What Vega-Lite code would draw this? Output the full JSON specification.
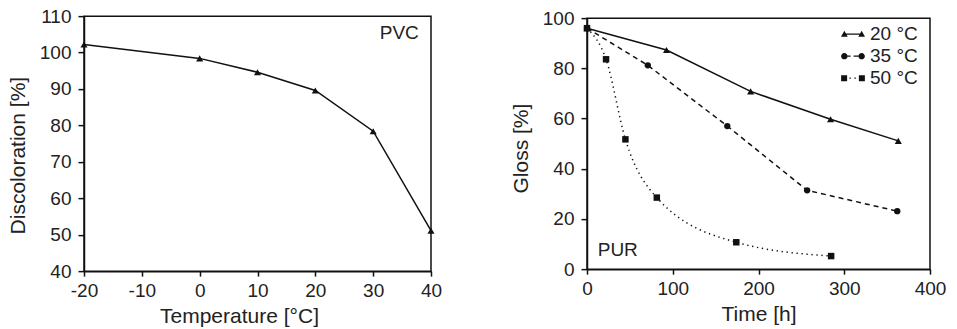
{
  "$schema": "https://vega.github.io/schema/vega-lite/v6.json",
  "padding": {"left": 6, "top": 6, "right": 5, "bottom": 0},
  "background": "white",
  "spacing": 66,
  "center": true,
  "resolve": {"scale": {"shape": "independent"}, "legend": {"shape": "independent"}},
  "config": {
    "font": "Liberation Sans",
    "view": {"stroke": "#111", "strokeWidth": 1.5},
    "axis": {
      "grid": false,
      "labelFlush": false,
      "labelOverlap": false,
      "domainColor": "#111",
      "domainWidth": 1.5,
      "tickColor": "#111",
      "tickWidth": 1.5,
      "labelFont": "Liberation Sans",
      "labelFontSize": 19,
      "labelColor": "#222",
      "labelExpr": "'' + datum.value",
      "titleFont": "Liberation Sans",
      "titleFontSize": 21,
      "titleFontWeight": "normal",
      "titleColor": "#222"
    },
    "axisY": {"tickSize": 6, "labelPadding": 7, "titlePadding": 11},
    "axisX": {"tickSize": 5, "labelPadding": 5, "titlePadding": 5}
  },
  "hconcat": [
    {
      "width": 347,
      "height": 255,
      "data": {"values": [
        {"temperature": -20, "discoloration": 102.2},
        {"temperature": 0, "discoloration": 98.4},
        {"temperature": 10, "discoloration": 94.6},
        {"temperature": 20, "discoloration": 89.6},
        {"temperature": 30, "discoloration": 78.4},
        {"temperature": 40, "discoloration": 51.1}
      ]},
      "encoding": {
        "x": {"field": "temperature", "type": "quantitative", "scale": {"domain": [-20, 40], "nice": false}, "axis": {"values": [-20, -10, 0, 10, 20, 30, 40], "title": "Temperature [°C]", "titleX": 155}},
        "y": {"field": "discoloration", "type": "quantitative", "scale": {"domain": [40, 110], "nice": false}, "axis": {"values": [40, 50, 60, 70, 80, 90, 100, 110], "title": "Discoloration [%]", "titleY": 139}}
      },
      "layer": [
        {"mark": {"type": "line", "color": "#111", "strokeWidth": 1.5}},
        {"mark": {"type": "point", "shape": "triangle-up", "filled": true, "color": "#111", "size": 50, "opacity": 1}},
        {
          "data": {"values": [{"label": "PVC", "temperature": 37.9, "discoloration": 105.3}]},
          "mark": {"type": "text", "align": "right", "baseline": "middle", "fontSize": 19, "color": "#222"},
          "encoding": {"text": {"field": "label"}}
        }
      ]
    },
    {
      "width": 343,
      "height": 251,
      "data": {"values": [
        {"time": 0, "gloss": 96, "series": "20 °C"},
        {"time": 92.7, "gloss": 87.3, "series": "20 °C"},
        {"time": 190.8, "gloss": 70.8, "series": "20 °C"},
        {"time": 284, "gloss": 59.7, "series": "20 °C"},
        {"time": 363, "gloss": 51.1, "series": "20 °C"},
        {"time": 0, "gloss": 96, "series": "35 °C"},
        {"time": 70.9, "gloss": 81.2, "series": "35 °C"},
        {"time": 163.6, "gloss": 57.0, "series": "35 °C"},
        {"time": 256.7, "gloss": 31.4, "series": "35 °C"},
        {"time": 361.8, "gloss": 23.1, "series": "35 °C"},
        {"time": 0, "gloss": 96, "series": "50 °C"},
        {"time": 22.2, "gloss": 83.6, "series": "50 °C"},
        {"time": 44.8, "gloss": 51.7, "series": "50 °C"},
        {"time": 81.4, "gloss": 28.5, "series": "50 °C"},
        {"time": 174.1, "gloss": 10.7, "series": "50 °C"},
        {"time": 284.7, "gloss": 5.2, "series": "50 °C"}
      ]},
      "encoding": {
        "x": {"field": "time", "type": "quantitative", "scale": {"domain": [0, 400], "nice": false}, "axis": {"values": [0, 100, 200, 300, 400], "title": "Time [h]"}},
        "y": {"field": "gloss", "type": "quantitative", "scale": {"domain": [0, 100], "nice": false}, "axis": {"values": [0, 20, 40, 60, 80, 100], "title": "Gloss [%]", "titleY": 130}}
      },
      "layer": [
        {
          "transform": [{"filter": "datum.series == '20 °C'"}],
          "mark": {"type": "line", "color": "#111", "strokeWidth": 1.5}
        },
        {
          "transform": [{"filter": "datum.series == '35 °C'"}],
          "mark": {"type": "line", "color": "#111", "strokeWidth": 1.5, "strokeDash": [5, 4]}
        },
        {
          "transform": [{"filter": "datum.series == '50 °C'"}],
          "mark": {"type": "line", "color": "#111", "strokeWidth": 1.5, "strokeDash": [1.3, 3.7], "interpolate": "monotone"}
        },
        {
          "transform": [{"filter": "datum.series == '20 °C'"}],
          "mark": {"type": "point", "shape": "triangle-up", "filled": true, "color": "#111", "size": 50, "opacity": 1}
        },
        {
          "transform": [{"filter": "datum.series == '35 °C'"}],
          "mark": {"type": "point", "shape": "circle", "filled": true, "color": "#111", "size": 40, "opacity": 1}
        },
        {
          "transform": [{"filter": "datum.series == '50 °C'"}],
          "mark": {"type": "point", "shape": "square", "filled": true, "color": "#111", "size": 42, "opacity": 1}
        },
        {
          "mark": {"type": "point", "filled": true, "color": "#111", "size": 1, "opacity": 0},
          "encoding": {
            "shape": {
              "field": "series",
              "type": "nominal",
              "scale": {
                "domain": ["20 °C", "35 °C", "50 °C"],
                "range": [
                  "M-0.72,-0.06H0.72V0.06H-0.72ZM-1,0.22L-0.72,-0.28L-0.44,0.22ZM0.44,0.22L0.72,-0.28L1,0.22Z",
                  "M-0.99,0A0.27,0.27,0,1,0,-0.45,0A0.27,0.27,0,1,0,-0.99,0ZM0.45,0A0.27,0.27,0,1,0,0.99,0A0.27,0.27,0,1,0,0.45,0ZM-0.46,-0.06H-0.2V0.06H-0.46ZM0.05,-0.06H0.46V0.06H0.05Z",
                  "M-0.99,-0.25H-0.49V0.25H-0.99ZM0.49,-0.25H0.99V0.25H0.49ZM-0.3,-0.06H-0.18V0.06H-0.3ZM0.12,-0.06H0.24V0.06H0.12Z"
                ]
              },
              "legend": {
                "title": null,
                "orient": "none",
                "legendX": 254,
                "legendY": 4,
                "padding": 0,
                "labelFont": "Liberation Sans",
                "labelFontSize": 19,
                "labelColor": "#222",
                "labelOffset": 5,
                "rowPadding": -1,
                "symbolSize": 576,
                "symbolStrokeWidth": 0,
                "symbolFillColor": "#111",
                "symbolOpacity": 1
              }
            }
          }
        },
        {
          "data": {"values": [{"label": "PUR", "time": 12.5, "gloss": 7.45}]},
          "mark": {"type": "text", "align": "left", "baseline": "middle", "fontSize": 19, "color": "#222"},
          "encoding": {"text": {"field": "label"}}
        }
      ]
    }
  ]
}
